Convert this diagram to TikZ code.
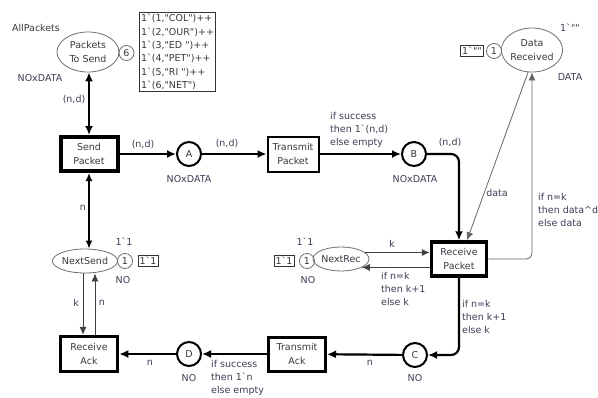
\documentclass[tikz,border=0pt]{standalone}
\usepackage{fontspec}
\setmainfont{DejaVu Sans}[Ligatures=TeXOff]
\usetikzlibrary{shapes.geometric,arrows.meta}
\definecolor{txt}{RGB}{55,55,65}
\definecolor{lbl}{RGB}{60,60,85}
\definecolor{pl}{RGB}{110,110,110}
\begin{document}
\begin{tikzpicture}[x=1pt,y=-1pt, font=\fontsize{9.5}{13.3}\selectfont, text=txt,
  trans/.style={draw=black, rectangle, inner sep=0pt, align=center},
  place/.style={draw=pl, ellipse, inner sep=0pt, align=center, line width=0.8pt},
  cplace/.style={draw=black, circle, line width=2pt, minimum size=24pt, inner sep=0pt},
  tok/.style={draw=pl, circle, minimum size=15pt, inner sep=0pt, line width=0.8pt},
  mbox/.style={draw=black!80, rectangle, inner sep=1.6pt, line width=0.9pt, align=left},
  lab/.style={text=lbl, inner sep=0pt, align=left},
  tarc/.style={line width=2.2pt, -{Latex[length=9pt,width=8pt]}},
  tarcd/.style={line width=2.2pt, {Latex[length=9pt,width=8pt]}-{Latex[length=9pt,width=8pt]}},
  marcd/.style={line width=1.5pt, {Latex[length=8pt,width=7pt]}-{Latex[length=8pt,width=7pt]}},
  thinarc/.style={line width=0.8pt, draw=black!75, -{Latex[length=8pt,width=7pt]}},
]
\useasboundingbox (0,0) rectangle (598,397);

% places and transitions
\node[place, minimum width=62pt, minimum height=40pt] (pts) at (88,52) {Packets\\To Send};
\node[tok] (t6) at (126.5,53) {6};
\node[mbox] (m6) at (177.5,52) {1`(1,"COL")++\\1`(2,"OUR")++\\1`(3,"ED ")++\\1`(4,"PET")++\\1`(5,"RI ")++\\1`(6,"NET")};
\node[lab, text=txt] (lall) at (36,28) {AllPackets};
\node[lab] (lpts) at (40,78) {NOxDATA};

\node[trans, line width=4pt, minimum width=57pt, minimum height=34pt] (sp) at (89,154) {Send\\Packet};
\node[cplace] (A) at (189,154) {A};
\node[lab] (lA) at (189,179) {NOxDATA};
\node[trans, line width=2pt, minimum width=51pt, minimum height=35pt] (tp) at (293,154) {Transmit\\Packet};
\node[cplace] (B) at (414,154) {B};
\node[lab] (lB) at (415,179) {NOxDATA};
\node[trans, line width=3.5pt, minimum width=55pt, minimum height=34pt] (rp) at (459,259) {Receive\\Packet};

\node[place, minimum width=59pt, minimum height=44pt] (dr) at (532,50) {Data\\Received};
\node[tok] (t1d) at (494,51) {1};
\node[mbox] (m1d) at (472,51) {1`""};
\node[lab] (ldr1) at (570,28) {1`""};
\node[lab] (ldr2) at (570,77) {DATA};

\node[place, minimum width=56pt, minimum height=24pt] (nr) at (341,259) {NextRec};
\node[tok] (t1r) at (307,261) {1};
\node[mbox] (m1r) at (284,261) {1`1};
\node[lab] (lnr1) at (305,242) {1`1};
\node[lab] (lnr2) at (308,280) {NO};

\node[cplace] (C) at (415,355) {C};
\node[lab] (lC) at (415,378) {NO};
\node[trans, line width=3pt, minimum width=57pt, minimum height=34pt] (ta) at (297,354) {Transmit\\Ack};
\node[cplace] (D) at (189,354) {D};
\node[lab] (lD) at (189,378) {NO};
\node[trans, line width=3.5pt, minimum width=57pt, minimum height=35pt] (ra) at (89,354) {Receive\\Ack};

\node[place, minimum width=60pt, minimum height=24pt] (ns) at (85,261) {NextSend};
\node[tok] (t1s) at (125,261) {1};
\node[mbox] (m1s) at (148,261) {1`1};
\node[lab] (lns1) at (124,242) {1`1};
\node[lab] (lns2) at (123,280) {NO};

% arcs
\draw[tarcd] (pts.south -| sp.north) -- (sp.north);
\draw[tarc] (sp) -- (A);
\draw[tarc] (A) -- (tp);
\draw[tarc] (tp) -- (B);
\draw[tarc, rounded corners=8pt] (B) -- (B -| rp) -- (rp);
\coordinate (rpN) at ([xshift=8pt]rp.north);
\draw[thinarc, draw=black!60] (dr.260) -- (rpN);
\draw[thinarc, draw=black!60, rounded corners=6pt] (rp.east) -- (rp.east -| dr.south) -- (dr.south);
\draw[thinarc] (nr.15) -- (nr.15 -| rp.west);
\draw[thinarc] (nr.-22 -| rp.west) -- (nr.-22);
\draw[tarc, rounded corners=8pt] (rp) -- (rp |- C) -- (C);
\draw[tarc] (C) -- (ta);
\draw[tarc] (ta) -- (D);
\draw[tarc] (D) -- (ra);
\draw[marcd] (sp.south) -- (sp.south |- ns.north);
\coordinate (raL) at ([xshift=-6pt]ra.north);
\coordinate (raR) at ([xshift=6pt]ra.north);
\draw[thinarc] (raL |- ns.south) -- (raL);
\draw[thinarc] (raR) -- (raR |- ns.south);

% arc labels
\node[lab] (a1) at (74,100) {(n,d)};
\node[lab] (a2) at (143,145) {(n,d)};
\node[lab] (a3) at (227,144) {(n,d)};
\node[lab, anchor=west] (a4) at (330,130) {if success\\then 1`(n,d)\\else empty};
\node[lab] (a5) at (450,143) {(n,d)};
\node[lab] (a6) at (497,193) {data};
\node[lab, anchor=west] (a7) at (538,210) {if n=k\\then data\textasciicircum d\\else data};
\node[lab] (a8) at (392,244) {k};
\node[lab, anchor=west] (a9) at (381,289) {if n=k\\then k+1\\else k};
\node[lab, anchor=west] (a10) at (462,317) {if n=k\\then k+1\\else k};
\node[lab] (a11) at (370,363) {n};
\node[lab, anchor=west] (a12) at (211,378) {if success\\then 1`n\\else empty};
\node[lab] (a13) at (150,363) {n};
\node[lab] (a14) at (83,208) {n};
\node[lab] (a15) at (76,303) {k};
\node[lab] (a16) at (102,303) {n};
\end{tikzpicture}
\end{document}
